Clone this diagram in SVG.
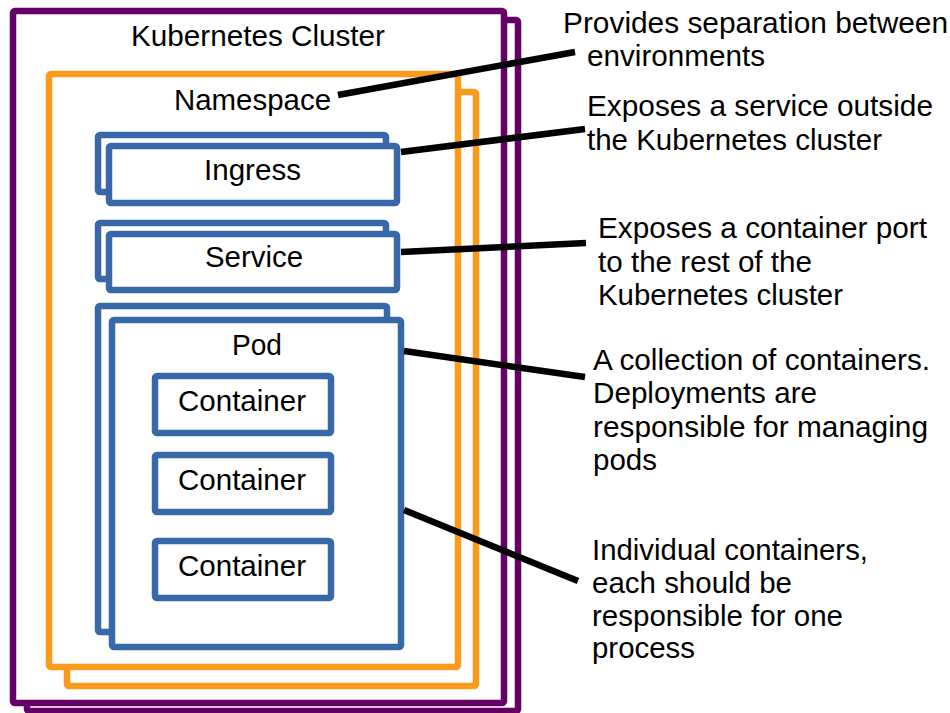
<svg xmlns="http://www.w3.org/2000/svg" width="950" height="713" viewBox="0 0 950 713">
<style>
  text { font-family: "Liberation Sans", Arial, sans-serif; font-size: 29px; fill: #000; }
  .cl { fill: #fff; stroke: #660066; stroke-width: 6.5; }
  .ns { fill: #fff; stroke: #fb9a1b; stroke-width: 6.5; }
  .bl { fill: #fff; stroke: #3868a8; stroke-width: 6.5; }
  .conn { stroke: #000; stroke-width: 6.5; fill: none; }
</style>
<rect width="950" height="713" fill="#fff"/>
<g id="cluster">
  <rect class="cl" x="27" y="20" width="491" height="691" rx="2"/>
  <rect class="cl" x="13" y="11" width="491" height="692" rx="2"/>
  <text x="131" y="46" textLength="254" lengthAdjust="spacingAndGlyphs">Kubernetes Cluster</text>
</g>
<g id="namespace">
  <rect class="ns" x="67" y="92" width="409" height="594" rx="2"/>
  <rect class="ns" x="49" y="74" width="409" height="593" rx="2"/>
  <text x="174" y="110" textLength="157" lengthAdjust="spacingAndGlyphs">Namespace</text>
</g>
<g id="ingress">
  <rect class="bl" x="98" y="135" width="288" height="57" rx="2"/>
  <rect class="bl" x="109" y="146" width="288" height="57" rx="2"/>
  <text x="204" y="180" textLength="97" lengthAdjust="spacingAndGlyphs">Ingress</text>
</g>
<g id="service">
  <rect class="bl" x="98" y="223" width="288" height="56" rx="2"/>
  <rect class="bl" x="109" y="234" width="288" height="56" rx="2"/>
  <text x="205" y="267" textLength="98" lengthAdjust="spacingAndGlyphs">Service</text>
</g>
<g id="pod">
  <rect class="bl" x="98" y="306" width="289" height="326" rx="2"/>
  <rect class="bl" x="112" y="320" width="289" height="327" rx="2"/>
  <text x="232" y="355" textLength="50" lengthAdjust="spacingAndGlyphs">Pod</text>
</g>
<g id="container1">
  <rect class="bl" x="155" y="376" width="176" height="57" rx="2"/>
  <text x="178" y="411" textLength="128" lengthAdjust="spacingAndGlyphs">Container</text>
</g>
<g id="container2">
  <rect class="bl" x="155" y="455" width="176" height="57" rx="2"/>
  <text x="178" y="490" textLength="128" lengthAdjust="spacingAndGlyphs">Container</text>
</g>
<g id="container3">
  <rect class="bl" x="155" y="541" width="176" height="57" rx="2"/>
  <text x="178" y="576" textLength="128" lengthAdjust="spacingAndGlyphs">Container</text>
</g>
<g id="connectors">
  <line class="conn" x1="338" y1="95" x2="575" y2="52"/>
  <line class="conn" x1="401" y1="152" x2="585" y2="129"/>
  <line class="conn" x1="401" y1="252" x2="586" y2="243"/>
  <line class="conn" x1="404" y1="351" x2="585" y2="377"/>
  <line class="conn" x1="404" y1="510" x2="578" y2="581"/>
</g>
<g id="note-namespace">
  <text x="563" y="33" textLength="385" lengthAdjust="spacingAndGlyphs">Provides separation between</text>
  <text x="587" y="66" textLength="178" lengthAdjust="spacingAndGlyphs">environments</text>
</g>
<g id="note-ingress">
  <text x="587" y="116" textLength="346" lengthAdjust="spacingAndGlyphs">Exposes a service outside</text>
  <text x="587" y="150" textLength="295" lengthAdjust="spacingAndGlyphs">the Kubernetes cluster</text>
</g>
<g id="note-service">
  <text x="598" y="238" textLength="329" lengthAdjust="spacingAndGlyphs">Exposes a container port</text>
  <text x="598" y="272" textLength="214" lengthAdjust="spacingAndGlyphs">to the rest of the</text>
  <text x="598" y="305" textLength="245" lengthAdjust="spacingAndGlyphs">Kubernetes cluster</text>
</g>
<g id="note-pod">
  <text x="593" y="370" textLength="337" lengthAdjust="spacingAndGlyphs">A collection of containers.</text>
  <text x="593" y="403" textLength="224" lengthAdjust="spacingAndGlyphs">Deployments are</text>
  <text x="593" y="437" textLength="335" lengthAdjust="spacingAndGlyphs">responsible for managing</text>
  <text x="593" y="470" textLength="64" lengthAdjust="spacingAndGlyphs">pods</text>
</g>
<g id="note-container">
  <text x="592" y="560" textLength="276" lengthAdjust="spacingAndGlyphs">Individual containers,</text>
  <text x="592" y="593" textLength="200" lengthAdjust="spacingAndGlyphs">each should be</text>
  <text x="592" y="626" textLength="251" lengthAdjust="spacingAndGlyphs">responsible for one</text>
  <text x="592" y="658" textLength="103" lengthAdjust="spacingAndGlyphs">process</text>
</g>
</svg>
